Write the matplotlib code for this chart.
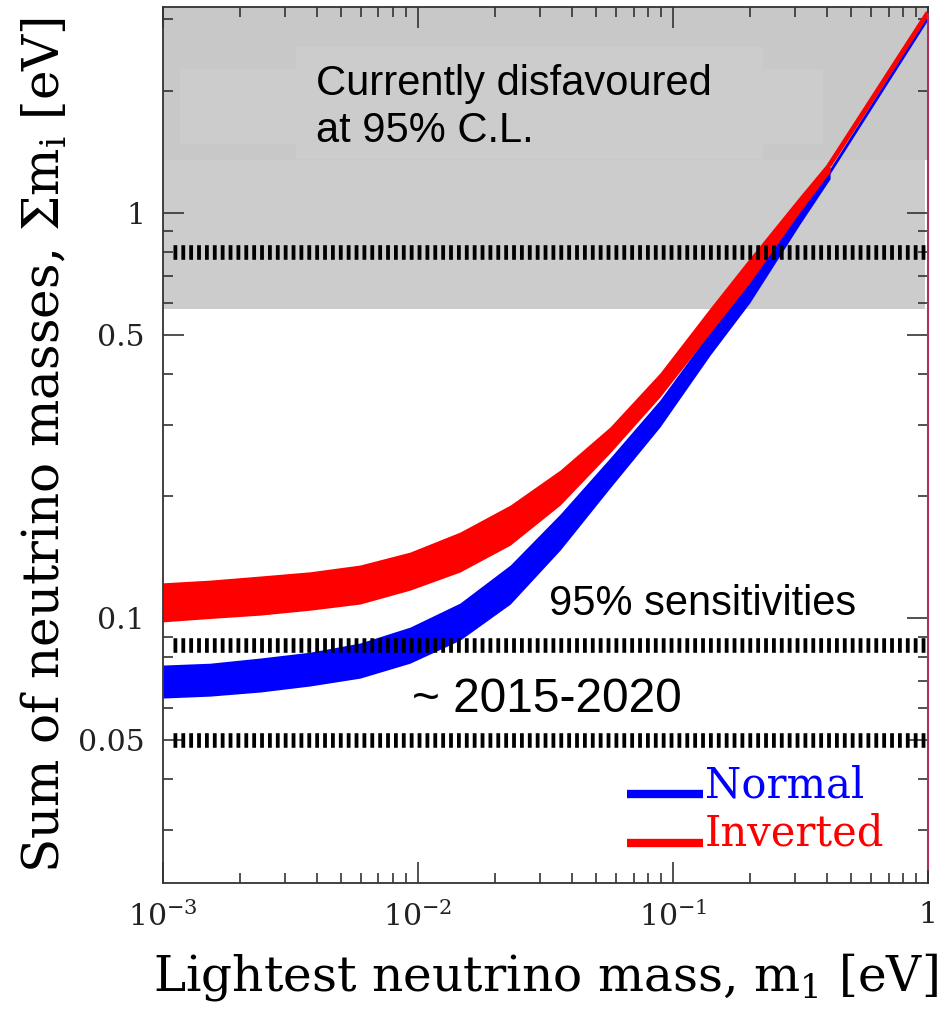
import numpy as np
import matplotlib
matplotlib.use("Agg")
import matplotlib.pyplot as plt
from matplotlib.ticker import LogLocator, FixedLocator, FixedFormatter, NullFormatter

plt.rcParams['font.family'] = ['DejaVu Serif']
plt.rcParams['mathtext.fontset'] = 'dejavuserif'

# lightest neutrino mass [eV]
m_light = [0.001, 0.00153, 0.0024, 0.00377, 0.00592, 0.0093, 0.0146, 0.0230,
           0.0361, 0.0566, 0.0889, 0.140, 0.200, 0.315, 0.413]
# inverted ordering band (upper / lower edge), sum of masses [eV]
inv_hi = [0.1222, 0.1241, 0.1270, 0.1301, 0.1352, 0.1455, 0.1630, 0.1901,
          0.2320, 0.2962, 0.4027, 0.583, 0.774, 1.101, 1.352]
inv_lo = [0.0979, 0.0998, 0.1017, 0.1046, 0.1083, 0.1172, 0.1299, 0.1514,
          0.1901, 0.2555, 0.3513, 0.5054, 0.672, 1.006, 1.262]
# normal ordering band
nor_hi = [0.0766, 0.0774, 0.0797, 0.0824, 0.0868, 0.0950, 0.1089, 0.1352,
          0.1806, 0.2483, 0.3453, 0.511, 0.679, 1.029, 1.291]
nor_lo = [0.0635, 0.0642, 0.0657, 0.0680, 0.0711, 0.0774, 0.0882, 0.1083,
          0.1472, 0.2094, 0.2962, 0.446, 0.600, 0.939, 1.213]
# thin continuation up to m1 = 1 eV
tail_m = [0.41, 1.0]
tail_inv = [1.31, 3.12]
tail_nor = [1.25, 3.02]

disfavoured_limit = 0.58          # grey region above this
sensitivity_lines = [0.8, 0.086, 0.05]

fig = plt.figure(figsize=(9.41, 10.10), dpi=100)
ax = fig.add_axes([0.1732, 0.1257, 0.8130, 0.8674])
ax.set_xscale('log')
ax.set_yscale('log')
ax.set_xlim(1e-3, 1)
ax.set_ylim(0.0222, 3.22)

# excluded region (with the slightly different shades of the pasted box)
ax.axhspan(disfavoured_limit, 3.22, xmin=0, xmax=0.996, color='#cccccc', lw=0, zorder=0)
ax.axhspan(1.352, 3.22, color='#c8c8c8', lw=0, zorder=0.1)
ax.fill_between([0.00332, 0.2254], 1.358, 2.57, color='#cccccc', lw=0, zorder=0.2)
ax.fill_between([0.00117, 0.387], 1.480, 2.268, color='#cccccc', lw=0, zorder=0.2)

ax.fill_between(m_light, nor_lo, nor_hi, color='#0000ff', lw=0, zorder=2)
ax.fill_between(m_light, inv_lo, inv_hi, color='#ff0000', lw=0, zorder=3)
ax.plot(tail_m, tail_nor, color='#0000ff', lw=2.0, zorder=2, solid_capstyle='butt')
ax.plot(tail_m, tail_inv, color='#ff0000', lw=3.5, zorder=3, solid_capstyle='butt')
ax.plot([1, 1], [0.024, 3.1], color='#b03060', lw=1.5, zorder=7, clip_on=False)

for s in sensitivity_lines:
    ax.plot([0.00109, 1], [s, s], color='black', lw=10.5,
            linestyle=(0, (0.26, 0.28)), solid_capstyle='butt', zorder=5)

# texts
sans = 'Liberation Sans'
ax.text(0.2, 0.8995, 'Currently disfavoured', family=sans, fontsize=30,
        transform=ax.transAxes, va='baseline')
ax.text(0.2, 0.8459, 'at 95% C.L.', family=sans, fontsize=30,
        transform=ax.transAxes, va='baseline')
ax.text(0.5046, 0.3059, '95% sensitivities', family=sans, fontsize=30,
        transform=ax.transAxes, va='baseline')
ax.text(0.3255, 0.1952, '~ 2015-2020', family=sans, fontsize=34.5,
        transform=ax.transAxes, va='baseline')

# legend
ax.plot([0.6065, 0.7059], [0.1016, 0.1016], color='#0000ff', lw=6,
        transform=ax.transAxes, solid_capstyle='butt')
ax.plot([0.6065, 0.7059], [0.0457, 0.0457], color='#ff0000', lw=6,
        transform=ax.transAxes, solid_capstyle='butt')
ax.text(0.7085, 0.0982, 'Normal', color='#0000ff', fontsize=30,
        transform=ax.transAxes, va='baseline')
ax.text(0.7085, 0.0434, 'Inverted', color='#ff0000', fontsize=30,
        transform=ax.transAxes, va='baseline')

# axes / ticks
for sp in ax.spines.values():
    sp.set_color('#333333')
    sp.set_linewidth(1.3)
    sp.set_zorder(6)

ax.xaxis.set_major_locator(FixedLocator([1e-3, 1e-2, 1e-1, 1]))
ax.xaxis.set_major_formatter(FixedFormatter([r'$10^{-3}$', r'$10^{-2}$', r'$10^{-1}$', '1']))
ax.xaxis.set_minor_locator(LogLocator(base=10, subs=np.arange(2, 10)))
ax.xaxis.set_minor_formatter(NullFormatter())
ax.yaxis.set_major_locator(FixedLocator([0.05, 0.1, 0.5, 1]))
ax.yaxis.set_major_formatter(FixedFormatter(['0.05', '0.1', '0.5', '1']))
ax.yaxis.set_minor_locator(LogLocator(base=10, subs=np.arange(2, 10)))
ax.yaxis.set_minor_formatter(NullFormatter())

ax.tick_params(which='both', direction='in', top=True, right=True,
               color='#333333', width=1.2, labelsize=21.5, labelcolor='#222222')
ax.tick_params(which='major', length=15)
ax.tick_params(which='minor', length=7.5)
ax.tick_params(axis='x', pad=13)
ax.tick_params(axis='y', pad=13)

ax.set_xlabel('Lightest neutrino mass, m$_1$ [eV]', fontsize=35, labelpad=14)
ax.set_ylabel(r'Sum of neutrino masses, $\Sigma$m$_\mathrm{i}$ [eV]', fontsize=36, labelpad=6)

fig.savefig('out.png', dpi=100)
